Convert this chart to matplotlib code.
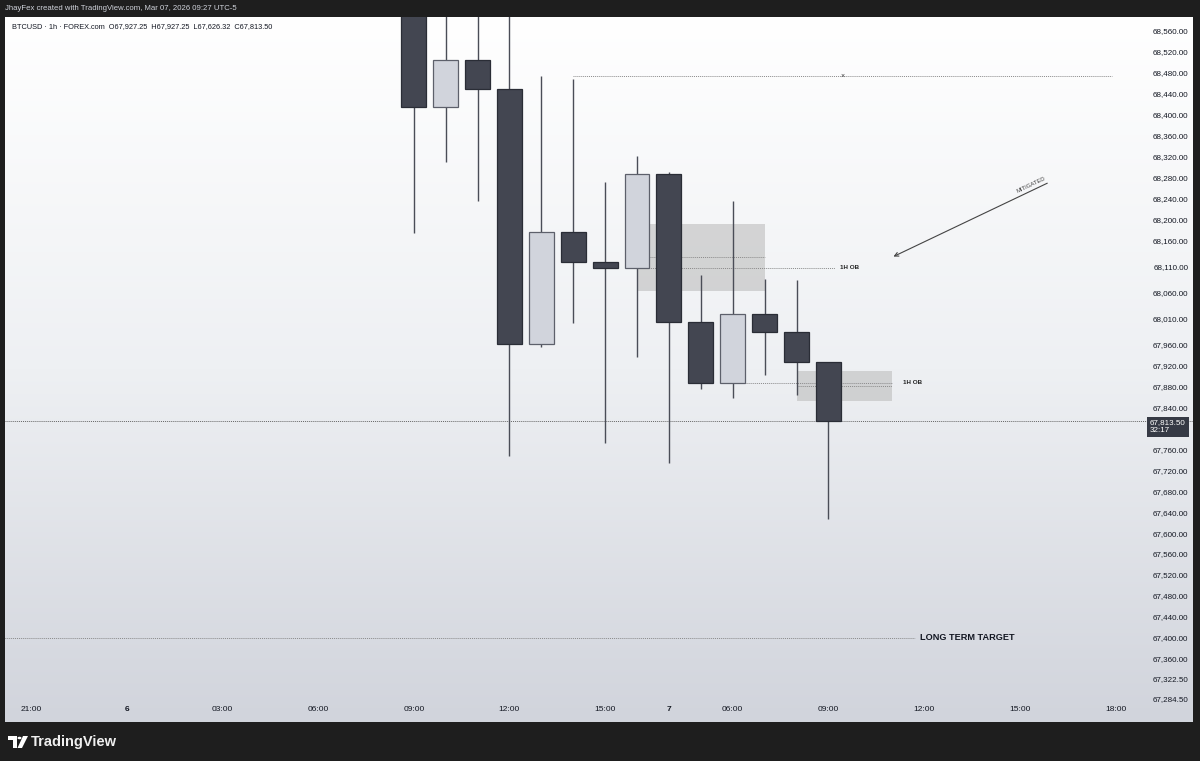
import numpy as np
import matplotlib.pyplot as plt
from matplotlib.colors import LinearSegmentedColormap
from matplotlib.patches import Rectangle, Polygon, Circle

plt.rcParams['font.family'] = ['Liberation Sans', 'DejaVu Sans']

# candle data (bar index, OHLC)
bar_idx = [12, 13, 14, 15, 16, 17, 18, 19, 20, 21, 22, 23, 24, 25]
opens  = [68650, 68415, 68504, 68449, 67961, 68175, 68118, 68107, 68286, 68004, 67887, 68018, 67985, 67927.25]
highs  = [68700, 68620, 68600, 68610, 68474, 68468, 68271, 68321, 68290, 68093, 68235, 68085, 68084, 67927.25]
lows   = [68173, 68309, 68235, 67747, 67955, 68001, 67772, 67936, 67734, 67875, 67858, 67902, 67864, 67626.32]
closes = [68415, 68504, 68449, 67961, 68175, 68118, 68107, 68286, 68004, 67887, 68018, 67985, 67927.25, 67813.50]

time_ticks = [0, 3, 6, 9, 12, 15, 18, 20, 22, 25, 28, 31, 34]
time_labels = ['21:00', '6', '03:00', '06:00', '09:00', '12:00', '15:00', '7', '06:00', '09:00', '12:00', '15:00', '18:00']

price_ticks = [68560, 68520, 68480, 68440, 68400, 68360, 68320, 68280, 68240, 68200, 68160,
               68110, 68060, 68010, 67960, 67920, 67880, 67840, 67760, 67720, 67680, 67640,
               67600, 67560, 67520, 67480, 67440, 67400, 67360, 67322.5, 67284.5]

last_price = 67813.50
swing_high = 68474
target = 67400
# order blocks: (x0, x1, low, high)
ob_upper = (19, 23, 68063, 68191)
ob_lower = (24, 27, 67852.6, 67910)

fig = plt.figure(figsize=(12, 7.61), dpi=100)
fig.patch.set_facecolor('#1e1e1e')
ax = fig.add_axes([5/1200, 39/761, 1188/1200, 705/761])

bg = LinearSegmentedColormap.from_list('bg', ['#ffffff', '#eef0f3', '#d1d4dc'])
ax.imshow(np.linspace(0, 1, 256).reshape(-1, 1), cmap=bg, extent=[0, 1, 0, 1],
          transform=ax.transAxes, aspect='auto', zorder=0)

# order block zones
for x0, x1, lo, hi in [ob_upper, ob_lower]:
    ax.add_patch(Rectangle((x0, lo), x1 - x0, hi - lo, fc='#bdbdbd', ec='none', alpha=0.6, zorder=1))
dot = (0, (1, 1))
ax.hlines(68128, 19.4, 23, colors='#8a8a8a', lw=0.7, linestyles=dot, zorder=2)
ax.hlines(68107, 19, 25.2, colors='#8a8a8a', lw=0.7, linestyles=dot, zorder=2)
ax.text(25.35, 68107, '1H OB', fontsize=4.5, fontweight='bold', color='#222222', va='center')
ax.hlines(67887, 22.4, 27, colors='#8a8a8a', lw=0.7, linestyles=dot, zorder=2)
ax.hlines(67881, 24, 27, colors='#8a8a8a', lw=0.7, linestyles=dot, zorder=2)
ax.text(27.35, 67887, '1H OB', fontsize=4.5, fontweight='bold', color='#222222', va='center')

# swing high line
ax.hlines(swing_high, 17, 33.9, colors='#8a8a8a', lw=0.7, linestyles=dot, zorder=2)
ax.text(25.45, swing_high, '×', fontsize=5, color='#333333', ha='center', va='center')

# long term target
ax.hlines(target, -1, 27.7, colors='#8a8a8a', lw=0.7, linestyles=dot, zorder=2)
ax.text(27.87, target, 'LONG TERM TARGET', fontsize=6.6, fontweight='bold', color='#131722', va='center')

# current price line
ax.axhline(last_price, color='#666666', lw=0.7, linestyle=dot, zorder=2)

# candles
for i, o, h, l, c in zip(bar_idx, opens, highs, lows, closes):
    up = c >= o
    ax.vlines(i, l, h, colors='#4a4d57', lw=1, zorder=3)
    ax.bar(i, abs(c - o), bottom=min(o, c), width=0.78,
           color='#d1d4dc' if up else '#434651',
           edgecolor='#5d606b' if up else '#2a2d36', lw=0.9, zorder=4)

# mitigated arrow
ax.annotate('', xy=(26.96, 68126.5), xytext=(31.94, 68271.3),
            arrowprops=dict(arrowstyle='->', color='#444444', lw=0.8, mutation_scale=7))
ax.text(31.4, 68262, 'MITIGATED', fontsize=4.2, color='#444444', rotation=25.5,
        ha='center', va='bottom', rotation_mode='anchor')

ax.set_xlim(-0.815, 36.43)
ax.set_ylim(67238.8, 68586.8)

ax.set_xticks(time_ticks)
ax.set_xticklabels(time_labels)
ax.tick_params(axis='x', length=0, pad=-9, labelsize=6, labelcolor='#131722')
for lbl in ax.get_xticklabels():
    lbl.set_va('center')
    if lbl.get_text().isdigit():
        lbl.set_fontweight('bold')

ax.yaxis.tick_right()
ax.set_yticks(price_ticks)
ax.set_yticklabels(['{:,.2f}'.format(p) for p in price_ticks])
ax.tick_params(axis='y', length=0, pad=-3.5, labelsize=5.8, labelcolor='#131722')
for lbl in ax.get_yticklabels():
    lbl.set_ha('right')

for s in ax.spines.values():
    s.set_visible(False)

# last price label
ax.annotate('{:,.2f}\n32:17'.format(last_price), xy=(1, last_price),
            xycoords=('axes fraction', 'data'), xytext=(-43, 2), textcoords='offset pixels',
            ha='left', va='top', fontsize=5.8, color='white', linespacing=1.15,
            bbox=dict(boxstyle='square,pad=0.35', fc='#363a45', ec='none'), zorder=6)

# header and legend
fig.text(5/1200, 1 - 9/761, 'JhayFex created with TradingView.com, Mar 07, 2026 09:27 UTC-5',
         fontsize=5.6, color='#d1d4dc', va='center')
ax.text(7/1188, 1 - 10/705,
        'BTCUSD · 1h · FOREX.com  O67,927.25  H67,927.25  L67,626.32  C67,813.50',
        transform=ax.transAxes, fontsize=5.35, color='#131722', va='center')

# footer logo, drawn in pixel coords
def px(x, y):
    return (x / 1200, 1 - y / 761)

logo = [
    Polygon([px(8, 736), px(17, 736), px(17, 748), px(13, 748), px(13, 740), px(8, 740)]),
    Circle(px(19.5, 738), 2.0 / 1200),
    Polygon([px(23, 736), px(28, 736), px(22, 748), px(17.5, 748)]),
]
for p in logo:
    p.set_transform(fig.transFigure)
    p.set_facecolor('white')
    p.set_edgecolor('none')
    fig.patches.append(p)
fig.text(31/1200, 1 - 742/761, 'TradingView', fontsize=10.5, fontweight='bold', color='#f0f0f0', va='center')

fig.savefig('out.png', dpi=100, facecolor=fig.get_facecolor())
